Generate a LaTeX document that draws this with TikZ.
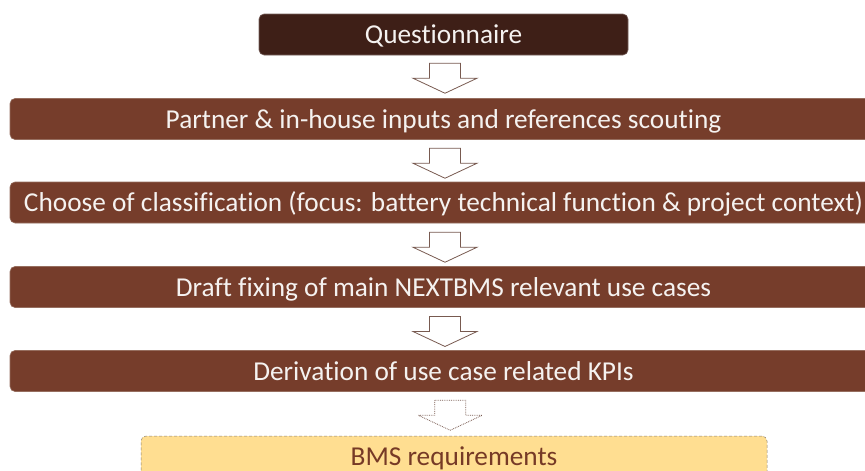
\documentclass[tikz,border=0pt]{standalone}
\usepackage{fontspec}
\setmainfont{Carlito}[Ligatures=NoCommon]
\usetikzlibrary{calc}

\definecolor{darkbrown}{RGB}{62,31,23}
\definecolor{midbrown}{RGB}{118,61,43}
\definecolor{edgebrown}{RGB}{150,110,95}
\definecolor{paleyellow}{RGB}{255,222,145}
\definecolor{yelloweredge}{RGB}{140,130,115}
\definecolor{arrowedge}{RGB}{120,90,80}
\definecolor{lighttext}{RGB}{245,242,240}
\definecolor{browntext}{RGB}{118,58,38}

\tikzset{
  stage/.style={rectangle, rounded corners=5pt, fill=midbrown, draw=edgebrown,
    line width=0.6pt, minimum height=41pt, minimum width=867pt, inner sep=0pt,
    text height=23pt, text depth=5pt,
    text=lighttext, font=\fontsize{27.3}{30}\selectfont},
  startbox/.style={stage, fill=darkbrown, draw=darkbrown!70!white, minimum width=369pt},
  resultbox/.style={stage, fill=paleyellow, draw=yelloweredge, densely dashed,
    line width=0.5pt, minimum width=626pt, text=browntext},
  arrowline/.style={draw=arrowedge, fill=white, line width=0.8pt, line join=miter},
  pics/flowarrow/.style={code={
    \draw[arrowline,#1] (-15.5,-15) -- (15.5,-15) -- (15.5,0) -- (32,0)
      -- (0,15) -- (-32,0) -- (-15.5,0) -- cycle;
  }},
}

\begin{document}
\begin{tikzpicture}[x=1pt, y=-1pt]
  \useasboundingbox (0,0) rectangle (865,471);
  \clip (0,0) rectangle (865,471);

  % process stages, top to bottom
  \node[startbox]  (q)  at (443.5,34.5) {Questionnaire};
  \node[stage]     (s1) at (443.5,119)  {Partner \& in-house inputs and references scouting};
  \node[stage]     (s2) at (443.5,202.5){Choose of classification (focus: battery technical function \& project context)};
  \node[stage]     (s3) at (443.5,287)  {Draft fixing of main NEXTBMS relevant use cases};
  \node[stage]     (s4) at (443.5,371)  {Derivation of use case related KPIs};
  \node[resultbox] (r)  at (454,456.5)  {BMS requirements};

  % hollow block arrows between the stages
  \pic at ($(q.south)!0.5!(s1.north)+(1.5,1.5)$)  {flowarrow};
  \pic at ($(s1.south)!0.5!(s2.north)+(1.5,2.5)$) {flowarrow};
  \pic at ($(s2.south)!0.5!(s3.north)+(1.5,2.5)$) {flowarrow};
  \pic at ($(s3.south)!0.5!(s4.north)+(1.5,2.5)$) {flowarrow};
  \pic at ($(s4.south)!0.5!(r.north)+(1.5,1.5)$)  {flowarrow={densely dotted}};
\end{tikzpicture}
\end{document}
